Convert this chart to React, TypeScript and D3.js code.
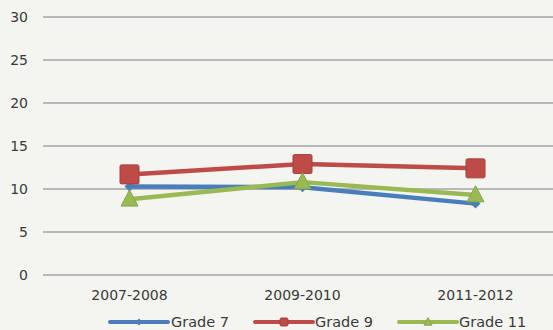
import React from "react";
import * as d3 from "d3";

const categories = ["2007-2008", "2009-2010", "2011-2012"];
const grade7 = [10.3, 10.2, 8.3];
const grade9 = [11.7, 12.9, 12.4];
const grade11 = [8.8, 10.8, 9.3];
const yTicks = [0, 5, 10, 15, 20, 25, 30];

const W = 553;
const H = 330;
const FONT = "'DejaVu Sans', Verdana, sans-serif";
const TEXT = "#3a3a3a";

type Series = { name: string; values: number[]; color: string; marker: "diamond" | "square" | "triangle" };

const series: Series[] = [
  { name: "Grade 7", values: grade7, color: "#4a7ebb", marker: "diamond" },
  { name: "Grade 9", values: grade9, color: "#be4b48", marker: "square" },
  { name: "Grade 11", values: grade11, color: "#98b954", marker: "triangle" },
];

function Marker({ kind, x, y, size, color }: { kind: Series["marker"]; x: number; y: number; size: number; color: string }) {
  if (kind === "square") {
    return <rect x={x - size / 2} y={y - size / 2} width={size} height={size} fill={color} stroke={d3.color(color)!.darker(0.4).toString()} strokeWidth={1} rx={1.5} />;
  }
  if (kind === "diamond") {
    const s = size / 2;
    return <path d={`M${x},${y - s}L${x + s},${y}L${x},${y + s}L${x - s},${y}Z`} fill={color} />;
  }
  const s = size / 2;
  return <path d={`M${x},${y - s * 1.1}L${x + s},${y + s * 0.8}L${x - s},${y + s * 0.8}Z`} fill={color} stroke={d3.color(color)!.darker(0.3).toString()} strokeWidth={1} />;
}

export default function App() {
  const x = d3.scaleBand<string>().domain(categories).range([43, 562]);
  const y = d3.scaleLinear().domain([0, 30]).range([275, 17]);
  const line = d3
    .line<number>()
    .x((_, i) => x(categories[i])! + x.bandwidth() / 2)
    .y((v) => y(v));

  const legend = [
    { s: series[0], x0: 110, x1: 168, tx: 171 },
    { s: series[1], x0: 255, x1: 313, tx: 315 },
    { s: series[2], x0: 399, x1: 457, tx: 459 },
  ];

  return (
    <svg width={W} height={H} style={{ position: "absolute", left: 0, top: 0, display: "block" }}>
      <rect width={W} height={H} fill="#f4f5f0" />
      {yTicks.map((t) => (
        <g key={t}>
          <line x1={43} x2={W} y1={y(t)} y2={y(t)} stroke="#a6a6a6" strokeWidth={1.5} />
          <text x={28} y={y(t)} dy="0.36em" textAnchor="end" fontFamily={FONT} fontSize={14} fill={TEXT}>
            {t}
          </text>
        </g>
      ))}
      {categories.map((c) => (
        <text key={c} x={x(c)! + x.bandwidth() / 2} y={295} dy="0.36em" textAnchor="middle" fontFamily={FONT} fontSize={14} fill={TEXT}>
          {c}
        </text>
      ))}
      {series.map((s) => (
        <g key={s.name}>
          <path d={line(s.values)!} fill="none" stroke={s.color} strokeWidth={4.5} strokeLinejoin="round" />
          {s.values.map((v, i) => (
            <Marker
              key={i}
              kind={s.marker}
              x={x(categories[i])! + x.bandwidth() / 2}
              y={y(v)}
              size={s.marker === "square" ? 19 : s.marker === "triangle" ? 17 : 10}
              color={s.color}
            />
          ))}
        </g>
      ))}
      {legend.map(({ s, x0, x1, tx }) => (
        <g key={s.name}>
          <line x1={x0} x2={x1} y1={322} y2={322} stroke={s.color} strokeWidth={4} strokeLinecap="round" />
          <Marker kind={s.marker} x={(x0 + x1) / 2} y={322} size={s.marker === "diamond" ? 7 : 8} color={s.color} />
          <text x={tx} y={322} dy="0.36em" fontFamily={FONT} fontSize={14.5} fill={TEXT}>
            {s.name}
          </text>
        </g>
      ))}
    </svg>
  );
}
